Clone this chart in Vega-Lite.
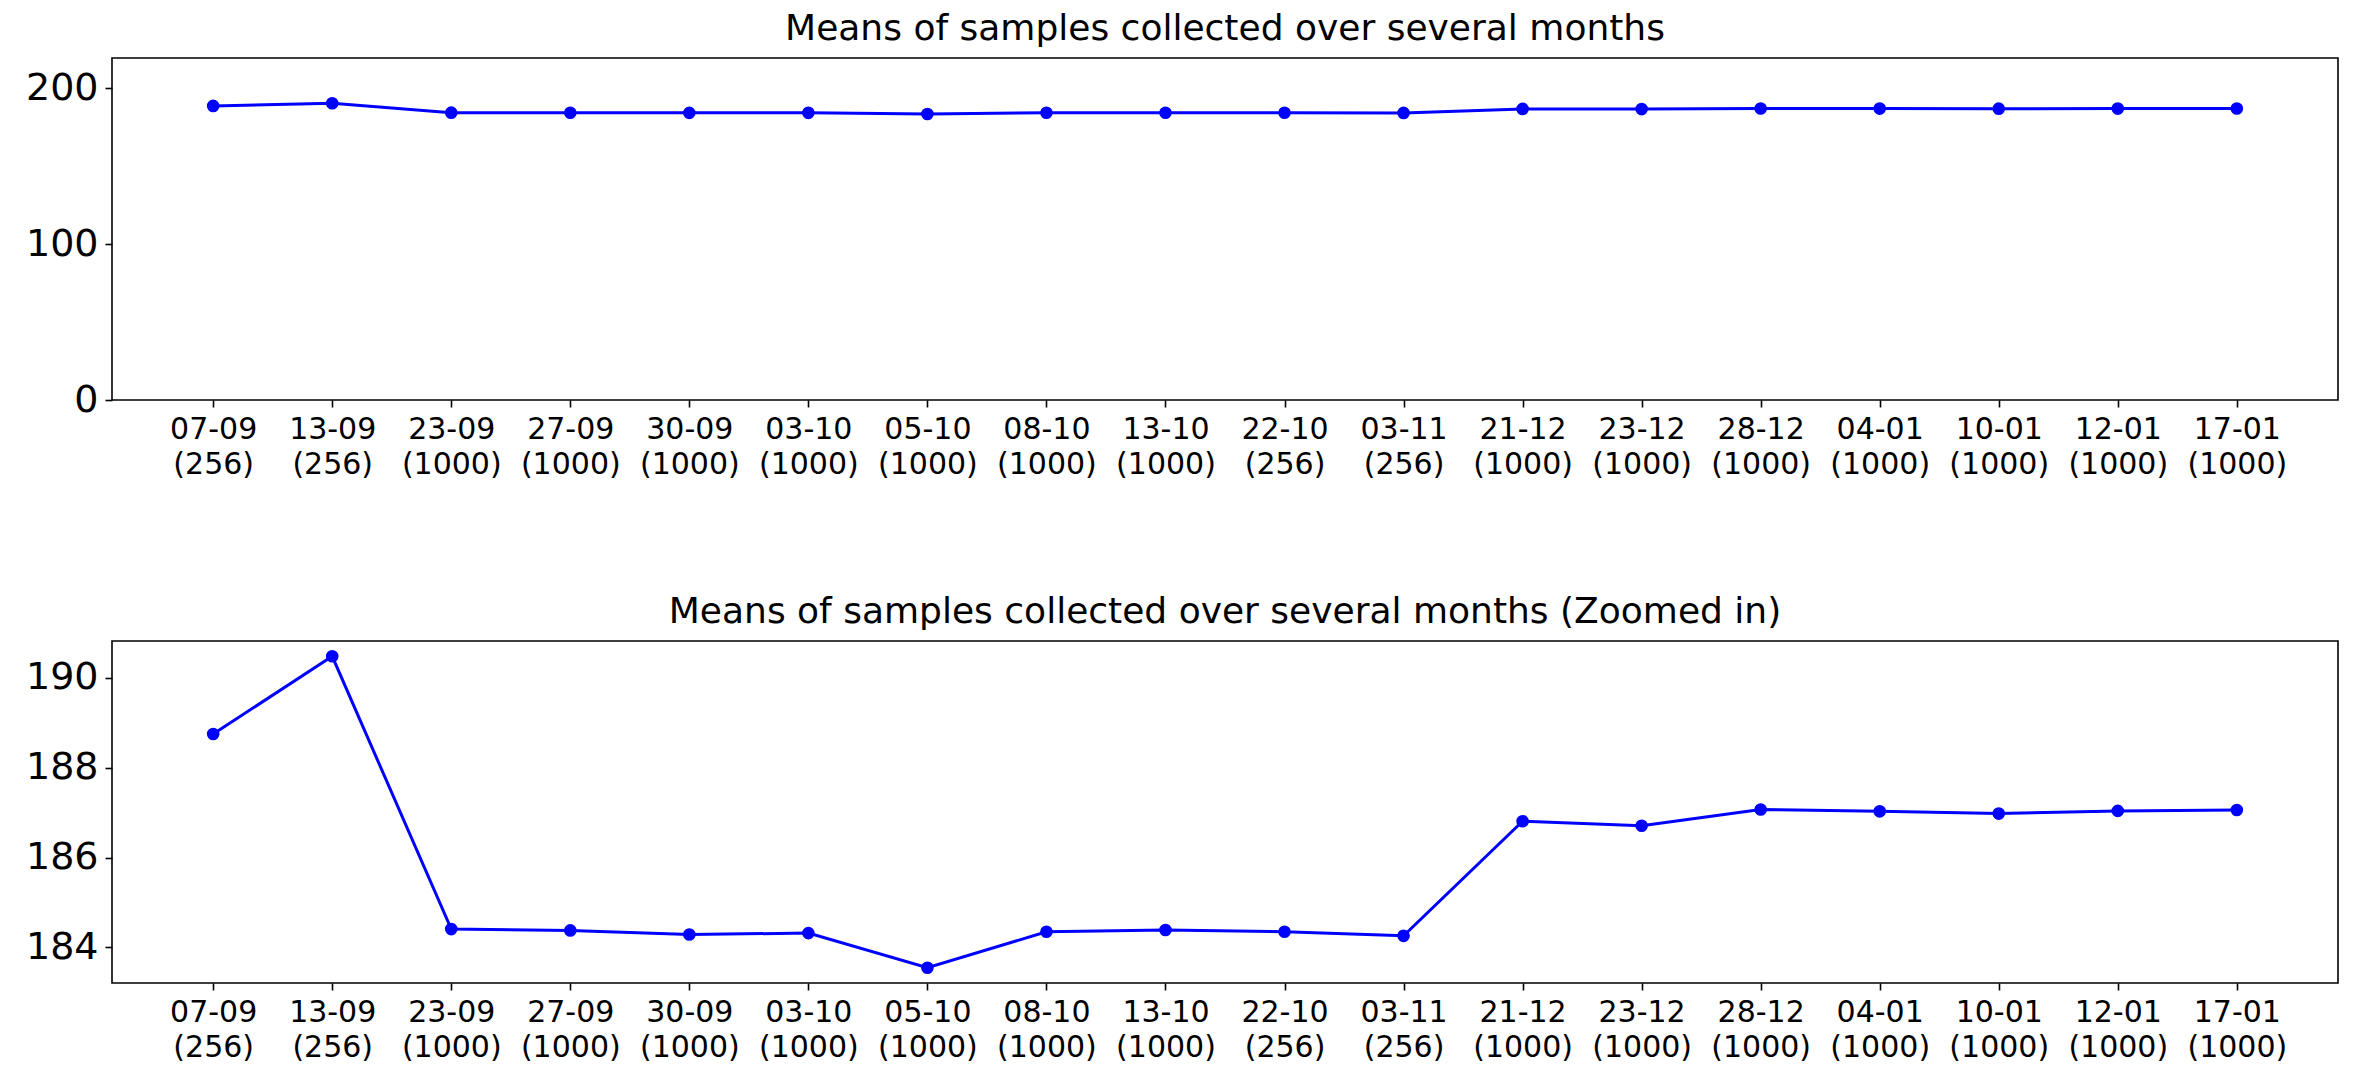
{
  "$schema": "https://vega.github.io/schema/vega-lite/v6.json",
  "padding": {"left": 5, "top": 10, "right": 5, "bottom": 5},
  "background": "white",
  "spacing": 113,
  "data": {
    "values": [
      {"label": "07-09 (256)", "mean": 188.75},
      {"label": "13-09 (256)", "mean": 190.48},
      {"label": "23-09 (1000)", "mean": 184.41},
      {"label": "27-09 (1000)", "mean": 184.38},
      {"label": "30-09 (1000)", "mean": 184.29},
      {"label": "03-10 (1000)", "mean": 184.32},
      {"label": "05-10 (1000)", "mean": 183.55},
      {"label": "08-10 (1000)", "mean": 184.35},
      {"label": "13-10 (1000)", "mean": 184.39},
      {"label": "22-10 (256)", "mean": 184.35},
      {"label": "03-11 (256)", "mean": 184.26},
      {"label": "21-12 (1000)", "mean": 186.81},
      {"label": "23-12 (1000)", "mean": 186.71},
      {"label": "28-12 (1000)", "mean": 187.07},
      {"label": "04-01 (1000)", "mean": 187.03},
      {"label": "10-01 (1000)", "mean": 186.98},
      {"label": "12-01 (1000)", "mean": 187.04},
      {"label": "17-01 (1000)", "mean": 187.06}
    ]
  },
  "vconcat": [
    {
      "width": 2226,
      "height": 342,
      "title": {"text": "Means of samples collected over several months"},
      "mark": {"type": "line", "color": "#0000ff", "strokeWidth": 3, "point": {"filled": true, "size": 160, "color": "#0000ff", "opacity": 1}},
      "encoding": {
        "x": {
          "field": "label", "type": "ordinal", "sort": null,
          "scale": {"type": "point", "padding": 0.85},
          "axis": {"labelAngle": 0, "labelExpr": "split(datum.label, ' ')", "labelFontSize": 30, "labelLineHeight": 35, "labelBaseline": "top"}
        },
        "y": {
          "field": "mean", "type": "quantitative",
          "scale": {"domain": [0, 219.5], "nice": false, "zero": false},
          "axis": {"values": [0, 100, 200], "labelFontSize": 38, "minExtent": 106}
        }
      }
    },
    {
      "width": 2226,
      "height": 342,
      "title": {"text": "Means of samples collected over several months (Zoomed in)"},
      "mark": {"type": "line", "color": "#0000ff", "strokeWidth": 3, "point": {"filled": true, "size": 160, "color": "#0000ff", "opacity": 1}},
      "encoding": {
        "x": {
          "field": "label", "type": "ordinal", "sort": null,
          "scale": {"type": "point", "padding": 0.85},
          "axis": {"labelAngle": 0, "labelExpr": "split(datum.label, ' ')", "labelFontSize": 30, "labelLineHeight": 35, "labelBaseline": "top"}
        },
        "y": {
          "field": "mean", "type": "quantitative",
          "scale": {"domain": [183.21, 190.82], "nice": false, "zero": false},
          "axis": {"values": [184, 186, 188, 190], "labelFontSize": 38, "minExtent": 106}
        }
      }
    }
  ],
  "config": {
    "font": "DejaVu Sans",
    "view": {"stroke": "black", "strokeWidth": 1.6},
    "title": {"font": "DejaVu Sans", "fontSize": 36, "fontWeight": "normal", "color": "black", "offset": 10, "anchor": "middle"},
    "axis": {
      "title": null,
      "grid": false,
      "domain": false,
      "ticks": true,
      "tickSize": 7,
      "tickWidth": 1.6,
      "tickColor": "black",
      "labelColor": "black",
      "labelFont": "DejaVu Sans",
      "labelPadding": 7
    }
  }
}
